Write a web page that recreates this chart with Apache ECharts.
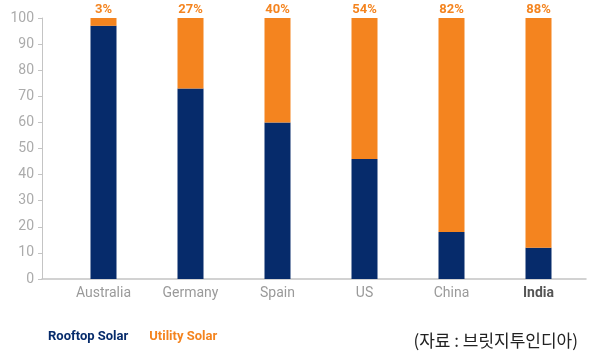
<!DOCTYPE html>
<html><head><meta charset="utf-8">
<script src="https://cdn.jsdelivr.net/npm/echarts@6/dist/echarts.min.js"></script>
<style>html,body{margin:0;padding:0;background:#fff}#c{width:600px;height:358px}</style>
</head><body><div id="c"></div>
<script>
const categories = ['Australia', 'Germany', 'Spain', 'US', 'China', 'India'];
const rooftop = [97, 73, 60, 46, 18, 12];
const utility = [3, 27, 40, 54, 82, 88];
const yTicks = [0, 10, 20, 30, 40, 50, 60, 70, 80, 90, 100];
const sourceText = '(자료 : 브릿지투인디아)';

const navy = '#062b6b';
const orange = '#f4841f';
const chart = echarts.init(document.getElementById('c'));
chart.setOption({
  animation: false,
  textStyle: { fontFamily: 'Roboto' },
  grid: [
    { left: 60, right: 18, top: 18, bottom: 79 },
    { left: 42, right: 14, top: 18, bottom: 79 }
  ],
  legend: {
    left: 38, top: 325, icon: 'none', itemWidth: 0, itemGap: 16,
    selectedMode: false,
    textStyle: { fontFamily: 'Roboto', fontWeight: 'bold', fontSize: 13 },
    data: [
      { name: 'Rooftop Solar', textStyle: { color: navy } },
      { name: 'Utility Solar', textStyle: { color: orange } }
    ]
  },
  xAxis: [
    {
      type: 'category', data: categories, gridIndex: 0,
      axisLine: { show: false }, axisTick: { show: false },
      axisLabel: {
        margin: 7, fontSize: 14, color: '#9a9a9a',
        formatter: v => v === 'India' ? '{b|' + v + '}' : v,
        rich: { b: { fontWeight: 'bold', color: '#555', fontSize: 14 } }
      }
    },
    {
      type: 'value', gridIndex: 1, min: 0, max: 1,
      axisLine: { show: true, lineStyle: { color: '#c4c4c4', width: 1.5 } },
      axisTick: { show: false }, axisLabel: { show: false }, splitLine: { show: false }
    }
  ],
  yAxis: [
    {
      type: 'value', gridIndex: 0, min: 0, max: 100, interval: 10, offset: 18,
      axisLine: { show: true, lineStyle: { color: '#c4c4c4' } },
      axisTick: { show: true, length: 4, lineStyle: { color: '#c4c4c4' } },
      axisLabel: { fontSize: 14, color: '#ababab', margin: 8,
        formatter: v => yTicks.includes(v) ? String(v) : '' },
      splitLine: { show: false }
    },
    { type: 'value', gridIndex: 1, show: false }
  ],
  series: [
    {
      name: 'Rooftop Solar', type: 'bar', stack: 's', data: rooftop, barWidth: 26,
      itemStyle: { color: navy }
    },
    {
      name: 'Utility Solar', type: 'bar', stack: 's', data: utility, barWidth: 26,
      itemStyle: { color: orange },
      label: { show: true, position: 'top', distance: 2, formatter: '{c}%',
        color: orange, fontWeight: 'bold', fontSize: 13, fontFamily: 'Roboto' }
    }
  ],
  graphic: [
    { type: 'text', right: 22, top: 332,
      style: { text: sourceText, fontSize: 17, fill: '#222',
        fontFamily: '"Noto Sans CJK KR", sans-serif' } }
  ]
});
</script></body></html>
